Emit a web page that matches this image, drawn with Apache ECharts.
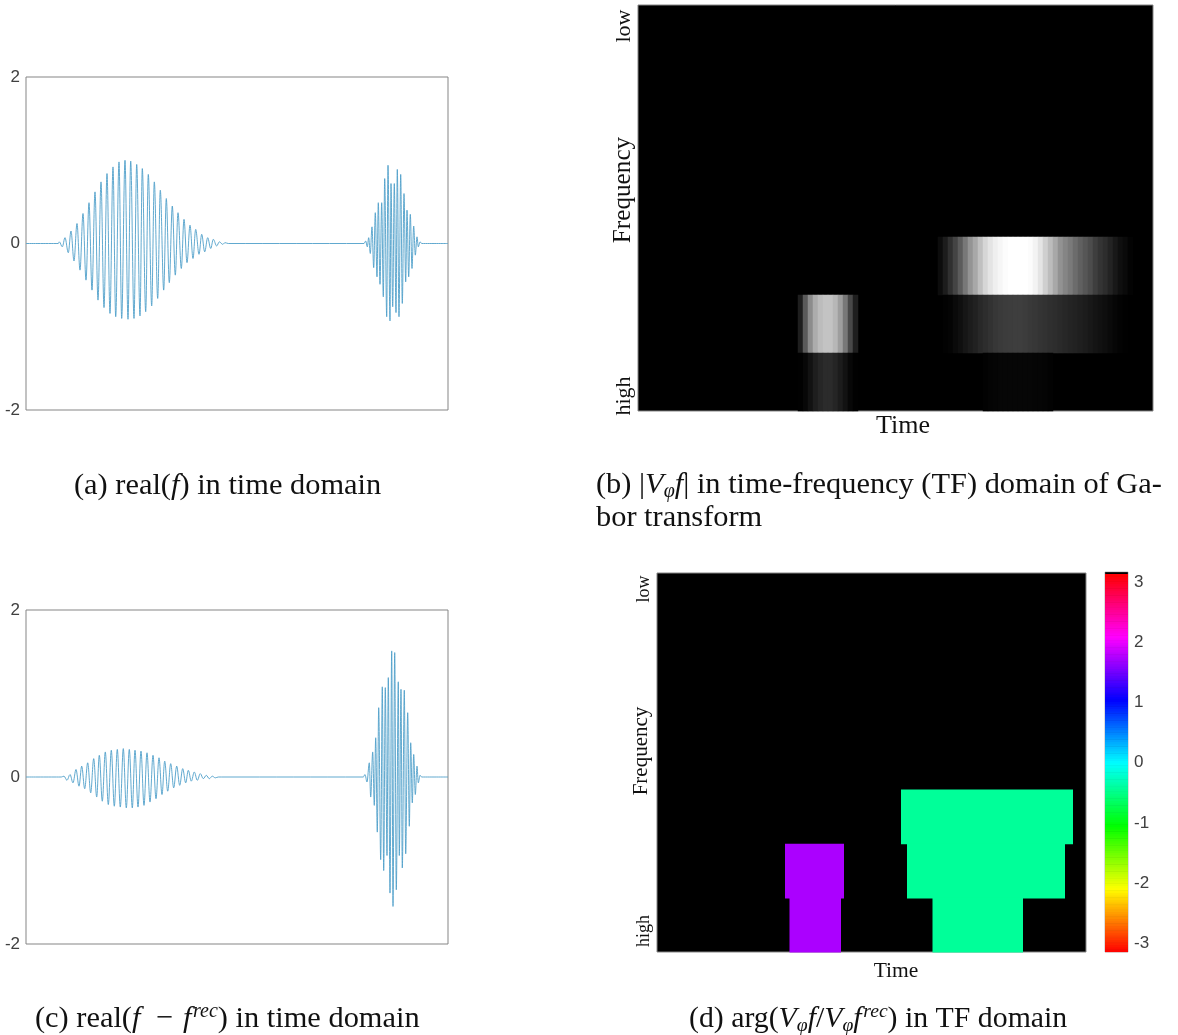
<!DOCTYPE html>
<html><head><meta charset="utf-8">
<style>html,body{margin:0;padding:0;background:#fff}#c{width:1178px;height:1035px}</style>
<script src="https://cdn.jsdelivr.net/npm/echarts@6/dist/echarts.min.js"></script>
</head><body><div id="c"></div>
<script>
// Waveform extremes (time in sample units, 0..422)
const fBurst1T=[32.3,33.3,36.3,39,42.3,45,48,51,54,57,60,63,66,69,72,75,78,81,84,87,89.7,93,95.7,99,102,104.7,108,110.7,114,116.3,119.7,122.3,125.7,128.3,131.7,134.3,137.7,140.3,143.3,146.3,149.3,152,155.3,158,161,164,167,169.7,173,175.7,178.7,181.7,184.7,187.3,190.7,193.3,196.7,199,202.3];
const fBurst1V=[0,.02,-.04,.07,-.11,.15,-.21,.24,-.32,.36,-.44,.49,-.56,.62,-.68,.74,-.77,.84,-.84,.92,-.88,.98,-.9,1,-.91,.99,-.9,.95,-.87,.9,-.82,.83,-.75,.74,-.66,.64,-.56,.54,-.47,.45,-.38,.37,-.3,.29,-.23,.22,-.18,.17,-.13,.11,-.1,.07,-.06,.05,-.03,.02,-.01,.01,0];
const fBurst2T=[338,339.7,341.3,342.7,344.3,346,347.7,349.3,351,352.3,354,355.7,357.3,358.7,360.7,362,364,365,366.7,368.3,370,371.3,373,374.7,376.3,378,379.7,381,382.7,384.3,386,387.7,389.3,391,392.3,394,395.7];
const fBurst2V=[0,.03,-.04,.07,-.12,.2,-.29,.37,-.4,.49,-.49,.49,-.64,.78,-.88,.94,-.93,.72,-.76,.72,-.83,.89,-.88,.83,-.72,.6,-.46,.4,-.4,.35,-.3,.21,-.14,.08,-.04,.02,0];
const dBurst1T=[32.7,35.3,38,41,44,47,50,53,55.7,58.7,61.7,64.7,67.7,70.7,73.3,76.3,79.3,82.3,85.3,88.3,91.3,94.3,97.3,100.3,103.3,106.3,109,112,115,118,121,124,127,130,133,136,138.7,141.7,144.7,147.7,150.7,153.7,156.7,159.7,162.3,165.3,168.3,171.3,174.3,177.3,180.3,183.3,186.3,189.3,192.3,195.3,198];
const dBurst1V=[0,0,.01,-.04,.03,-.07,.09,-.11,.13,-.14,.17,-.19,.22,-.24,.26,-.29,.3,-.33,.32,-.35,.33,-.36,.34,-.37,.33,-.37,.32,-.36,.31,-.34,.29,-.3,.26,-.26,.23,-.21,.19,-.17,.16,-.13,.13,-.1,.1,-.07,.08,-.05,.06,-.04,.04,-.02,.02,-.02,.01,-.01,0,0,0];
const dBurst2T=[337.3,339,341,343.3,344.7,346.7,348.3,349.7,351.3,352.7,354.7,356.3,357.7,359.3,361,362.3,364,365.7,367,368.7,370.3,372.3,373.3,375,376.3,378.3,379.7,381.7,383.3,384.7,386.3,387.7,389.3,391,392.3,394,395.7];
const dBurst2V=[0,.03,-.06,.17,-.24,.3,-.34,.47,-.66,.83,-.99,1.08,-1.12,1.07,-.94,1.19,-1.39,1.51,-1.55,1.49,-1.35,1.14,-.94,1.05,-1.09,1.04,-.92,.77,-.59,.41,-.31,.27,-.21,.13,-.07,.02,0];
// |V f| magnitude (0..255), by TF row (row 0 = low, row 6 = high) and column
const mag4Start=60;
const mag4=[12,28,48,68,92,120,148,168,192,214,228,239,246,252,255,255,255,255,252,243,228,207,188,168,146,133,122,108,96,86,76,62,52,45,35,24,15,10,3];
const mag5aStart=32;
const mag5a=[30,90,140,172,188,195,195,183,158,120,72,30];
const mag5bStart=61;
const mag5b=[2,4,10,15,22,28,33,40,45,50,55,58,60,61,62,62,60,57,55,52,50,47,45,42,39,36,34,31,28,24,20,17,14,10,6,3,1];
const mag6aStart=32;
const mag6a=[1,7,18,30,38,43,43,37,28,18,7,1];
const mag6bStart=69;
const mag6b=[2,4,5,6,6,6,6,6,6,6,5,5,4,2];
// Phase regions: [time start, time end, row start, row end, phase]
const purplePhase=1.75, mintPhase=-0.42;
const phaseCells=[
 [128,187,5,6,purplePhase],[132.5,184,6,7,purplePhase],
 [244,416,4,5,mintPhase],[250,408,5,6,mintPhase],[275.5,366,6,7,mintPhase]];
const hsvStops=['#ff0000','#ffff00','#00ff00','#00ffff','#0000ff','#ff00ff','#ff0000'];
const cbarTicks=[-3,-2,-1,0,1,2,3];

const zip=(t,v)=>t.map((x,i)=>[x,v[i]]);
const seriesF=[[0,0],...zip(fBurst1T,fBurst1V),...zip(fBurst2T,fBurst2V),[422,0]];
const seriesD=[[0,0],...zip(dBurst1T,dBurst1V),...zip(dBurst2T,dBurst2V),[422,0]];
const cols=Array.from({length:103},(_,i)=>i), rows=[0,1,2,3,4,5,6];
const cellsOf=(row,start,arr)=>arr.map((g,i)=>[start+i,row,g]);
const heat=[...cellsOf(4,mag4Start,mag4),...cellsOf(5,mag5aStart,mag5a),...cellsOf(5,mag5bStart,mag5b),...cellsOf(6,mag6aStart,mag6a),...cellsOf(6,mag6bStart,mag6b)];
const cbar=[];const N=160,lo=-Math.PI,hi=Math.PI;
for(let i=0;i<N;i++){const a=lo+(hi-lo)*i/N,b=lo+(hi-lo)*(i+1)/N;cbar.push([0,1,a,b,(a+b)/2]);}

const sans='"Liberation Sans",Arial,sans-serif', serif='"Liberation Serif",serif';
const lineSeries=(idx,data)=>({type:'line',xAxisIndex:idx,yAxisIndex:idx,data,showSymbol:false,smooth:0.35,smoothMonotone:'x',
  lineStyle:{color:'#4f9fca',width:0.9},silent:true,animation:false});
const waveY=idx=>({gridIndex:idx,type:'value',min:-2,max:2,interval:2,axisLine:{show:false},axisTick:{show:false},splitLine:{show:false},
  axisLabel:{color:'#404040',fontFamily:sans,fontSize:17,margin:6,padding:[3,0,0,0]}});
const waveX=idx=>({gridIndex:idx,type:'value',min:0,max:422,show:false});
const rectItem=(params,api)=>{
  const p0=api.coord([api.value(0),api.value(2)]),p1=api.coord([api.value(1),api.value(3)]);
  return {type:'rect',shape:{x:Math.min(p0[0],p1[0]),y:Math.min(p0[1],p1[1]),width:Math.abs(p1[0]-p0[0]),height:Math.abs(p1[1]-p0[1])+0.6},
    style:{fill:api.visual('color')}};
};
const richOf=s=>({
  i:{fontFamily:serif,fontStyle:'italic',fontSize:s,lineHeight:34,fill:'#111'},
  n:{fontFamily:serif,fontSize:s,lineHeight:34,fill:'#111'},
  sub:{fontFamily:serif,fontStyle:'italic',fontSize:s*0.66,lineHeight:18,verticalAlign:'bottom',fill:'#111'},
  sup:{fontFamily:serif,fontStyle:'italic',fontSize:s*0.66,lineHeight:18,verticalAlign:'top',fill:'#111'}
});
const caption=(x,y,text,s=30.4)=>({type:'text',x,y,silent:true,style:{text,rich:richOf(s),font:s+'px '+serif,fill:'#111',verticalAlign:'middle',align:'left'}});
const label=(x,y,text,size,rot)=>({type:'text',x,y,rotation:rot?Math.PI/2:0,silent:true,
  style:{text,font:size+'px '+serif,fill:'#111',align:'center',verticalAlign:'middle'}});

const option={
  animation:false,backgroundColor:'#fff',
  grid:[
    {left:26,top:77,width:422,height:333,show:true,borderColor:'#858585',borderWidth:1,backgroundColor:'#fff'},
    {left:26,top:610,width:422,height:334,show:true,borderColor:'#858585',borderWidth:1,backgroundColor:'#fff'},
    {left:638,top:5,width:515,height:406,show:true,borderColor:'#858585',borderWidth:1,backgroundColor:'#000'},
    {left:657,top:573,width:429,height:379,show:true,borderColor:'#858585',borderWidth:1,backgroundColor:'#000'},
    {left:1105,top:572,width:23,height:380,show:true,borderColor:'#777',borderWidth:0.5,backgroundColor:'#000'}
  ],
  xAxis:[waveX(0),waveX(1),
    {gridIndex:2,type:'category',data:cols,show:false},
    {gridIndex:3,type:'value',min:0,max:429,show:false},
    {gridIndex:4,type:'value',min:0,max:1,show:false}],
  yAxis:[waveY(0),waveY(1),
    {gridIndex:2,type:'category',data:rows,inverse:true,show:false},
    {gridIndex:3,type:'value',min:0,max:7,inverse:true,show:false},
    {gridIndex:4,type:'value',min:-3.15,max:3.175,position:'right',axisLine:{show:false},splitLine:{show:false},
      axisTick:{show:false},
      axisLabel:{color:'#404040',fontFamily:sans,fontSize:17,margin:6,padding:[4,0,0,0],customValues:cbarTicks}}],
  visualMap:[
    {show:false,type:'continuous',min:0,max:255,dimension:2,seriesIndex:2,inRange:{color:['#000000','#ffffff']}},
    {show:false,type:'continuous',min:-Math.PI,max:Math.PI,dimension:4,seriesIndex:[3,4],inRange:{color:hsvStops}}
  ],
  series:[
    lineSeries(0,seriesF),
    lineSeries(1,seriesD),
    {type:'heatmap',xAxisIndex:2,yAxisIndex:2,data:heat,silent:true,itemStyle:{borderWidth:0},progressive:0},
    {type:'custom',xAxisIndex:3,yAxisIndex:3,data:phaseCells,renderItem:rectItem,silent:true,encode:{x:[0,1],y:[2,3]}},
    {type:'custom',xAxisIndex:4,yAxisIndex:4,data:cbar,renderItem:rectItem,silent:true,encode:{x:[0,1],y:[2,3]}}
  ],
  graphic:{elements:[
    caption(74,486,'{n|(a) real(}{i|f}{n|) in time domain}'),
    caption(596,485,'{n|(b) |}{i|V}{sub|φ}{i|f}{n|| in time-frequency (TF) domain of Ga-}'),
    caption(596,518,'{n|bor transform}'),
    caption(35,1019,'{n|(c) real(}{i|f}{n|\u2002−\u2004}{i|f}{sup|\u200Arec}{n|) in time domain}'),
    caption(689,1019,'{n|(d) arg(}{i|V}{sub|φ}{i|f}{n|/}{i|V}{sub|φ}{i|f}{sup|\u200Arec}{n|) in TF domain}',29.8),
    label(623,190,'Frequency',25.2,true),
    label(624,26,'low',22,true),
    label(624,396,'high',22,true),
    label(903,426,'Time',26,false),
    label(641,751,'Frequency',21,true),
    label(644,589,'low',18,true),
    label(644,931,'high',18,true),
    label(896,971,'Time',21.5,false)
  ]}
};
echarts.init(document.getElementById('c'),null,{renderer:'canvas'}).setOption(option);
</script></body></html>
